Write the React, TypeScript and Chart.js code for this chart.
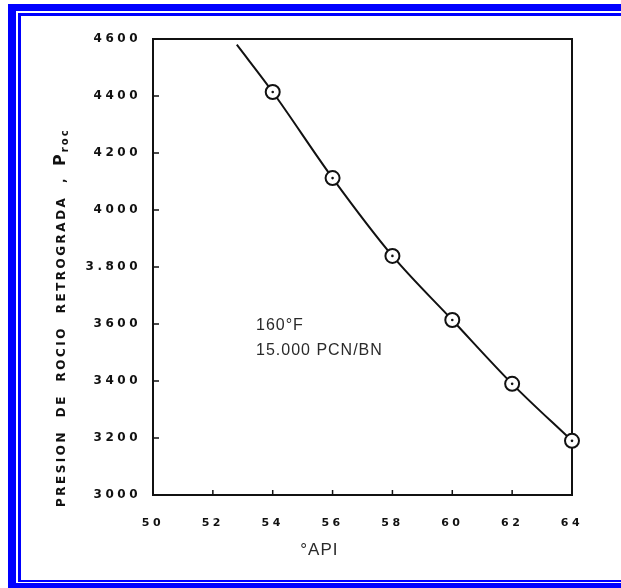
import React, { useEffect, useRef } from "react";
import { Chart, registerables } from "chart.js";

Chart.register(...registerables);

// ---- data ----
const curveApi = [52.8, 54, 56, 58, 60, 62, 64];
const curvePressure = [4580, 4414, 4112, 3839, 3614, 3390, 3190];
const pointApi = [54, 56, 58, 60, 62, 64];
const pointPressure = [4414, 4112, 3839, 3614, 3390, 3190];
const xTickLabels = ["50", "52", "54", "56", "58", "60", "62", "64"];
const yTickLabels = ["3000", "3200", "3400", "3600", "3.800", "4000", "4200", "4400", "4600"];
const xTitle = "°API";
const yTitle = "PRESION DE ROCIO RETROGRADA ,";
const yTitleSymbol = "P";
const yTitleSub = "roc";
const noteLines = ["160°F", "15.000 PCN/BN"];

const W = 621;
const H = 588;
const BLUE = "#0000ff";
const INK = "#111111";

const framePlugin = {
  id: "frameAndText",
  beforeDraw(chart: any) {
    chart.ctx.letterSpacing = "3.5px";
  },
  beforeDatasetsDraw(chart: any) {
    const ctx = chart.ctx;
    ctx.letterSpacing = "0px";
    const a = chart.chartArea;
    ctx.save();
    ctx.strokeStyle = INK;
    ctx.lineWidth = 2;
    ctx.strokeRect(a.left, a.top, a.right - a.left, a.bottom - a.top);
    // inward tick marks
    const xs = chart.scales.x;
    const ys = chart.scales.y;
    ctx.lineWidth = 1.5;
    ctx.beginPath();
    xs.ticks.forEach((t: any) => {
      const px = xs.getPixelForValue(t.value);
      ctx.moveTo(px, a.bottom);
      ctx.lineTo(px, a.bottom - 5);
    });
    ys.ticks.forEach((t: any) => {
      const py = ys.getPixelForValue(t.value);
      ctx.moveTo(a.left, py);
      ctx.lineTo(a.left + 6, py);
    });
    ctx.stroke();
    ctx.restore();
  },
  afterDraw(chart: any) {
    const ctx = chart.ctx;
    const a = chart.chartArea;
    ctx.save();
    ctx.letterSpacing = "0px";
    // y axis title (rotated)
    ctx.save();
    ctx.translate(62, 507);
    ctx.rotate(-Math.PI / 2);
    ctx.fillStyle = INK;
    ctx.textAlign = "left";
    ctx.textBaseline = "middle";
    ctx.font = "bold 12px 'DejaVu Sans'";
    ctx.letterSpacing = "2.5px";
    (ctx as any).wordSpacing = "6px";
    ctx.fillText(yTitle, 0, 0);
    const w1 = ctx.measureText(yTitle).width;
    (ctx as any).wordSpacing = "0px";
    ctx.letterSpacing = "0px";
    ctx.font = "bold 16px 'DejaVu Sans'";
    ctx.fillText(yTitleSymbol, w1 + 10, -1);
    const w2 = ctx.measureText(yTitleSymbol).width;
    ctx.font = "bold 10px 'DejaVu Sans'";
    ctx.letterSpacing = "2px";
    ctx.fillText(yTitleSub, w1 + 10 + w2 + 2, 3);
    ctx.restore();

    // x axis title
    ctx.fillStyle = "#2a2a2a";
    ctx.font = "17px 'Liberation Sans'";
    ctx.letterSpacing = "1px";
    ctx.textAlign = "center";
    ctx.textBaseline = "alphabetic";
    ctx.fillText(xTitle, a.left + 0.397 * (a.right - a.left), 555);

    // note
    ctx.textAlign = "left";
    ctx.font = "16px 'Liberation Sans'";
    ctx.letterSpacing = "1px";
    ctx.fillText(noteLines[0], 256, 330);
    ctx.fillText(noteLines[1], 256, 355);
    ctx.restore();
  },
};

export default function App() {
  const ref = useRef<HTMLCanvasElement>(null);

  useEffect(() => {
    const curve = curveApi.map((x, i) => ({ x, y: curvePressure[i] }));
    const marks = pointApi.map((x, i) => ({ x, y: pointPressure[i] }));
    const tickFont = { family: "'DejaVu Sans'", weight: "bold" as const };
    const chart = new Chart(ref.current as HTMLCanvasElement, {
      type: "line",
      data: {
        datasets: [
          {
            data: marks,
            showLine: false,
            pointRadius: 1.3,
            pointBorderWidth: 0,
            pointBackgroundColor: INK,
            clip: false,
          } as any,
          {
            data: marks,
            showLine: false,
            pointRadius: 7,
            pointBorderWidth: 2,
            pointBorderColor: INK,
            pointBackgroundColor: "#ffffff",
            clip: false,
          } as any,
          {
            data: curve,
            borderColor: INK,
            borderWidth: 2,
            pointRadius: 0,
            tension: 0.4,
            cubicInterpolationMode: "monotone",
            fill: false,
            clip: false,
          } as any,
        ],
      },
      options: {
        responsive: false,
        animation: false,
        devicePixelRatio: 1,
        layout: { padding: { left: 0, top: 39, right: 49, bottom: 0 } },
        plugins: { legend: { display: false }, tooltip: { enabled: false } },
        scales: {
          x: {
            type: "linear",
            min: 50,
            max: 64,
            afterFit(s: any) {
              s.height = 93;
            },
            grid: { display: false },
            border: { display: false },
            ticks: {
              stepSize: 2,
              autoSkip: false,
              maxRotation: 0,
              padding: 14,
              color: INK,
              font: { ...tickFont, size: 11 },
              callback: (_v: any, i: number) => xTickLabels[i],
            },
          },
          y: {
            type: "linear",
            min: 3000,
            max: 4600,
            afterFit(s: any) {
              s.width = 153;
            },
            grid: { display: false },
            border: { display: false },
            ticks: {
              stepSize: 200,
              autoSkip: false,
              padding: 4,
              color: INK,
              font: { ...tickFont, size: 12 },
              callback: (_v: any, i: number) => yTickLabels[i],
            },
          },
        },
      },
      plugins: [framePlugin],
    });
    return () => chart.destroy();
  }, []);

  const bar = (l: number, t: number, w: number, h: number) => (
    <div style={{ position: "absolute", left: l, top: t, width: w, height: h, background: BLUE }} />
  );

  return (
    <div style={{ position: "fixed", left: 0, top: 0, width: W, height: H, overflow: "hidden", background: "#fff" }}>
      {bar(8, 4, 8, 584)}
      {bar(8, 4, 613, 7)}
      {bar(8, 583, 613, 5)}
      {bar(18, 13, 3, 569)}
      {bar(18, 13, 603, 3)}
      {bar(18, 580, 603, 2)}
      <canvas
        ref={ref}
        width={W}
        height={H}
        style={{ position: "absolute", left: 0, top: 0, width: W, height: H }}
      />
    </div>
  );
}
